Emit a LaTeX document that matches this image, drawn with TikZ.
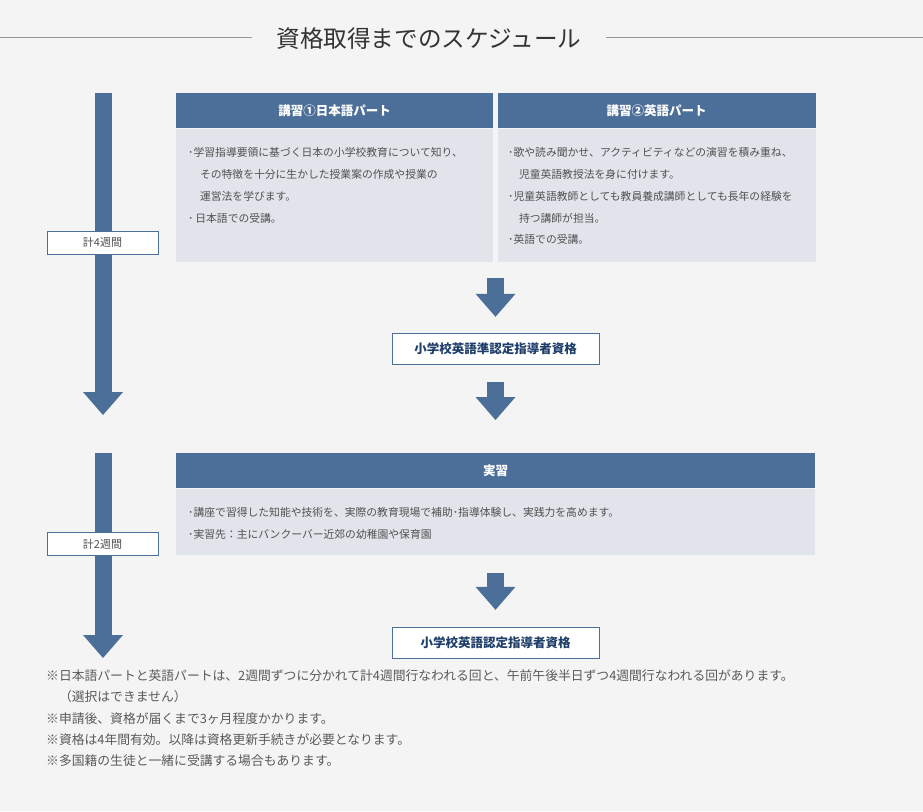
\documentclass[tikz,border=0pt]{standalone}
\usepackage{fontspec}
\setmainfont{Noto Sans CJK JP}
\usetikzlibrary{arrows.meta,positioning}
\definecolor{Bg}{HTML}{F4F4F4}
\definecolor{Head}{HTML}{4B6F99}
\definecolor{Body}{HTML}{E1E5EB}
\definecolor{Txt}{HTML}{505050}
\definecolor{Note}{HTML}{5A5A5A}
\definecolor{Cert}{HTML}{1F3F6A}
\definecolor{Title}{HTML}{333333}
\definecolor{Rule}{HTML}{9A9A9A}
\newcommand{\fs}[2]{\fontsize{#1}{#2}\selectfont}

\begin{document}
\begin{tikzpicture}[x=1pt,y=-1pt,>=Latex,
  headbox/.style={fill=Head,text=white,font=\bfseries\fs{12.5}{14},inner sep=0pt,minimum height=35pt},
  bodybox/.style={fill=Body,inner sep=0pt},
  bodytext/.style={text=Txt,align=left,font=\fs{10.8}{21.8},inner sep=0pt,anchor=north west},
  weekbox/.style={draw=Head,fill=white,text=Txt,font=\fs{11}{13},minimum width=111pt,minimum height=23pt,inner sep=0pt},
  certbox/.style={draw=Head,fill=white,text=Cert,font=\bfseries\fs{12.5}{14},minimum width=207pt,minimum height=31pt,inner sep=0pt},
  blockarrow/.style={draw=Head,line width=17pt,-{Triangle[width=40pt,length=23pt,line width=0pt]}}]
\fill[Bg] (0,0) rectangle (923,811);
\useasboundingbox (0,0) rectangle (923,811);
% title
\coordinate (tl) at (0,37);
\coordinate (tr) at (923,37);
\node[text=Title,font=\fs{23.6}{26},inner xsep=24pt] (title) at (429,39) {資格取得までのスケジュール};
\draw[Rule,line width=0.8pt] (tl) -- (tl -| title.west);
\draw[Rule,line width=0.8pt] (tr -| title.east) -- (tr);
% time line
\coordinate (a1s) at (103,93);
\coordinate (a1e) at (103,415);
\coordinate (a2s) at (103,453);
\coordinate (a2e) at (103,658);
\draw[blockarrow] (a1s) -- (a1e);
\draw[blockarrow] (a2s) -- (a2e);
\node[weekbox] (wk4) at (102.5,242.5) {計4週間};
\node[weekbox] (wk2) at (102.5,544) {計2週間};
% course parts
\node[headbox,anchor=north west,minimum width=317pt] (jphead) at (176,93) {講習①日本語パート};
\node[bodybox,minimum width=317pt,minimum height=133pt,below=0pt of jphead] (jpbody) {};
\node[headbox,minimum width=318pt,right=4pt of jphead] (enhead) {講習②英語パート};
\node[bodybox,minimum width=318pt,minimum height=133pt,below=0pt of enhead] (enbody) {};
\node[bodytext] (jptext) at (188,147.5) {･学習指導要領に基づく日本の小学校教育について知り、\\
  \hspace*{1.1em}その特徴を十分に生かした授業案の作成や授業の\\
  \hspace*{1.1em}運営法を学びます。\\
  ･\,日本語での受講。};
\node[bodytext] (entext) at (508,147.5) {･歌や読み聞かせ、アクティビティなどの演習を積み重ね、\\
  \hspace*{1em}児童英語教授法を身に付けます。\\
  ･児童英語教師としても教員養成講師としても長年の経験を\\
  \hspace*{1em}持つ講師が担当。\\
  ･英語での受講。};
\node[certbox] (cert1) at (495.5,348.5) {小学校英語準認定指導者資格};
% practice
\node[headbox,anchor=north west,minimum width=639pt] (prhead) at (176,453) {実習};
\node[bodybox,minimum width=639pt,minimum height=66pt,below=0pt of prhead] (prbody) {};
\node[bodytext] (prtext) at (188,507) {･講座で習得した知能や技術を、実際の教育現場で補助･指導体験し、実践力を高めます。\\
  ･実習先：主にバンクーバー近郊の幼稚園や保育園};
\node[certbox] (cert2) at (495.5,642.5) {小学校英語認定指導者資格};
\draw[blockarrow,shorten <=16pt,shorten >=16pt] (jpbody.south east -| cert1) -- (cert1.north);
\draw[blockarrow,shorten <=18pt,shorten >=33pt] (cert1.south) -- (prhead.north -| cert1);
\draw[blockarrow,shorten <=18pt,shorten >=17pt] (prbody.south -| cert2) -- (cert2.north);
% notes
\node[anchor=north west,align=left,text=Note,font=\fs{12.8}{21.3},inner sep=0pt] (notes) at (46,669.5) {※日本語パートと英語パートは、2週間ずつに分かれて計4週間行なわれる回と、午前午後半日ずつ4週間行なわれる回があります。\\
  \hspace*{1em}（選択はできません）\\
  ※申請後、資格が届くまで3ヶ月程度かかります。\\
  ※資格は4年間有効。以降は資格更新手続きが必要となります。\\
  ※多国籍の生徒と一緒に受講する場合もあります。};
\end{tikzpicture}
\end{document}
